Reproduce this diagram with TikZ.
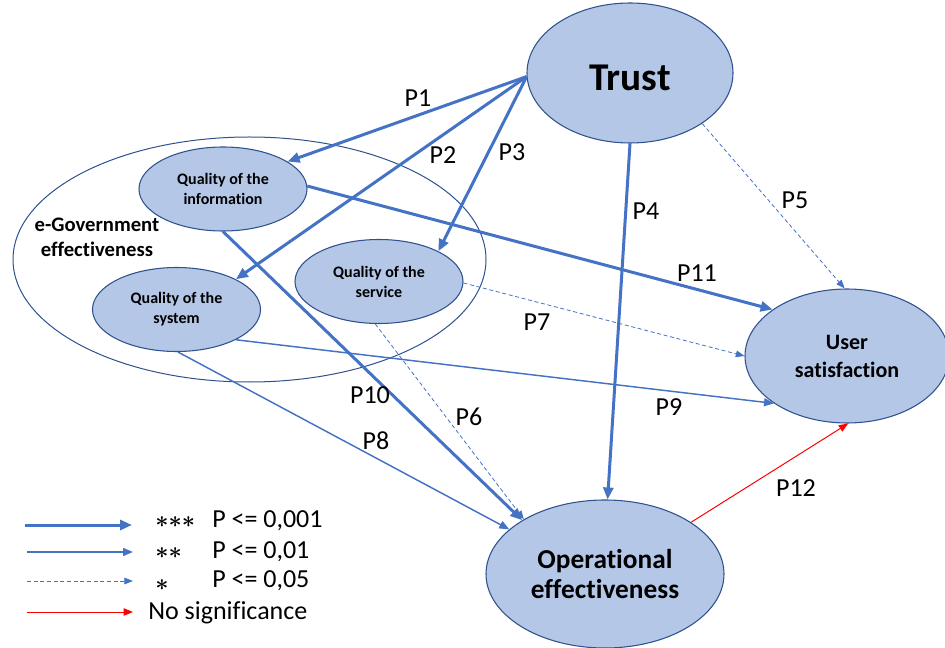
\documentclass[tikz,border=0pt]{standalone}
\usepackage{bm}
\usepackage{fontspec}
\setmainfont{Carlito}[Ligatures=CommonOff]
\usetikzlibrary{shapes.geometric,arrows.meta}
\definecolor{efill}{HTML}{B4C7E7}
\definecolor{edraw}{HTML}{2F528F}
\definecolor{arr}{HTML}{4472C4}
\begin{document}
\begin{tikzpicture}[x=0.75pt,y=-0.75pt,
  oval/.style={ellipse, draw=edraw, fill=efill, line width=0.8pt, inner sep=0pt, align=center},
  qual/.style={minimum width=126pt, minimum height=63pt, font=\bfseries\fontsize{12}{15}\selectfont},
  sig3/.style={draw=arr, line width=2.25pt, -{Triangle[length=9pt,width=7.5pt]}},
  sig2/.style={draw=arr, line width=1.1pt, -{Triangle[length=7.5pt,width=6pt]}},
  sig1/.style={draw=arr, line width=0.6pt, dash pattern=on 3pt off 2pt, -{Triangle[length=6.5pt,width=5pt]}},
  nosig/.style={draw=red, line width=0.75pt, -{Triangle[length=7pt,width=5.5pt]}},
  plab/.style={font=\fontsize{19.5}{23}\selectfont, inner sep=0pt},
  stars/.style={font=\fontsize{18}{21}\selectfont, inner sep=0pt, anchor=west},
]
\useasboundingbox (0,0) rectangle (945,648);

% outer group ellipse
\node[ellipse, draw=edraw, line width=0.75pt, minimum width=354.75pt, minimum height=183.75pt, inner sep=0pt] (egov) at (249.5,259.5) {};
\node[font=\bfseries\fontsize{15.5}{18.75}\selectfont, align=center, inner sep=0pt] (egovlab) at (97,237) {e-Government\\effectiveness};

% constructs
\node[oval, minimum width=154.5pt, minimum height=105pt] (trust) at (630,73) {};
\node[font=\bfseries\fontsize{29.5}{34}\selectfont, inner sep=0pt] (trustlab) at (630,77.5) {Trust};
\node[oval, minimum width=153pt, minimum height=100.5pt, font=\bfseries\fontsize{16.5}{21}\selectfont] (user) at (847,356) {User\\satisfaction};
\node[oval, minimum width=178.5pt, minimum height=111pt, font=\bfseries\fontsize{20.5}{22.5}\selectfont] (oper) at (605,574) {Operational\\effectiveness};
\node[oval, qual] (qinfo) at (223,189) {Quality of the\\information};
\node[oval, qual] (qsys) at (176.5,309.5) {Quality of the\\system};
\node[oval, qual] (qserv) at (379,281.5) {Quality of the\\service};

% paths
\draw[sig3] (trust.182) -- (qinfo.23);
\draw[sig3] (trust.182) -- (qsys.27);
\draw[sig3] (trust.182) -- (qserv.27);
\draw[sig3] (trust.270) -- (oper.88);
\draw[sig1] (trust.-35) -- (user.92);
\draw[sig3] (qinfo.2) -- (user.148);
\draw[sig1] (qserv.-1) -- (user.180);
\draw[sig2] (qsys.-27) -- (user.213);
\draw[nosig] (oper.31) -- (user.271);
\draw[sig1] (qserv.-95) -- (oper.146);
\draw[sig3] (qinfo.-90) -- (oper.147);
\draw[sig2] (qsys.-88) -- (oper.155);

% path labels
\node[plab] (p1) at (418,98) {P1};
\node[plab] (p2) at (443,155) {P2};
\node[plab] (p3) at (512,152) {P3};
\node[plab] (p4) at (646,211) {P4};
\node[plab] (p5) at (795,200) {P5};
\node[plab] (p11) at (697,273) {P11};
\node[plab] (p7) at (537,322) {P7};
\node[plab] (p9) at (669,407) {P9};
\node[plab] (p10) at (370,395) {P10};
\node[plab] (p6) at (469,417) {P6};
\node[plab] (p8) at (376,441) {P8};
\node[plab] (p12) at (796,488) {P12};

% legend
\coordinate (l1a) at (25,525); \coordinate (l1b) at (132,525);
\coordinate (l2a) at (27,552); \coordinate (l2b) at (133,552);
\coordinate (l3a) at (27,581); \coordinate (l3b) at (133,581);
\coordinate (l4a) at (27,612); \coordinate (l4b) at (133,612);
\draw[sig3] (l1a) -- (l1b);
\draw[sig2] (l2a) -- (l2b);
\draw[sig1] (l3a) -- (l3b);
\draw[nosig] (l4a) -- (l4b);
\node[stars] (s1) at (155,522) {$\mathord{\bm{\ast}}\mathord{\bm{\ast}}\mathord{\bm{\ast}}$};
\node[stars] (s2) at (155,553) {$\mathord{\bm{\ast}}\mathord{\bm{\ast}}$};
\node[stars] (s3) at (155,585) {$\mathord{\bm{\ast}}$};
\node[plab, anchor=base west] (t1) at (212,527) {P <= 0,001};
\node[plab, anchor=base west] (t2) at (212,558) {P <= 0,01};
\node[plab, anchor=base west] (t3) at (212,587) {P <= 0,05};
\node[plab, anchor=base west] (t4) at (148,619) {No significance};
\end{tikzpicture}
\end{document}
